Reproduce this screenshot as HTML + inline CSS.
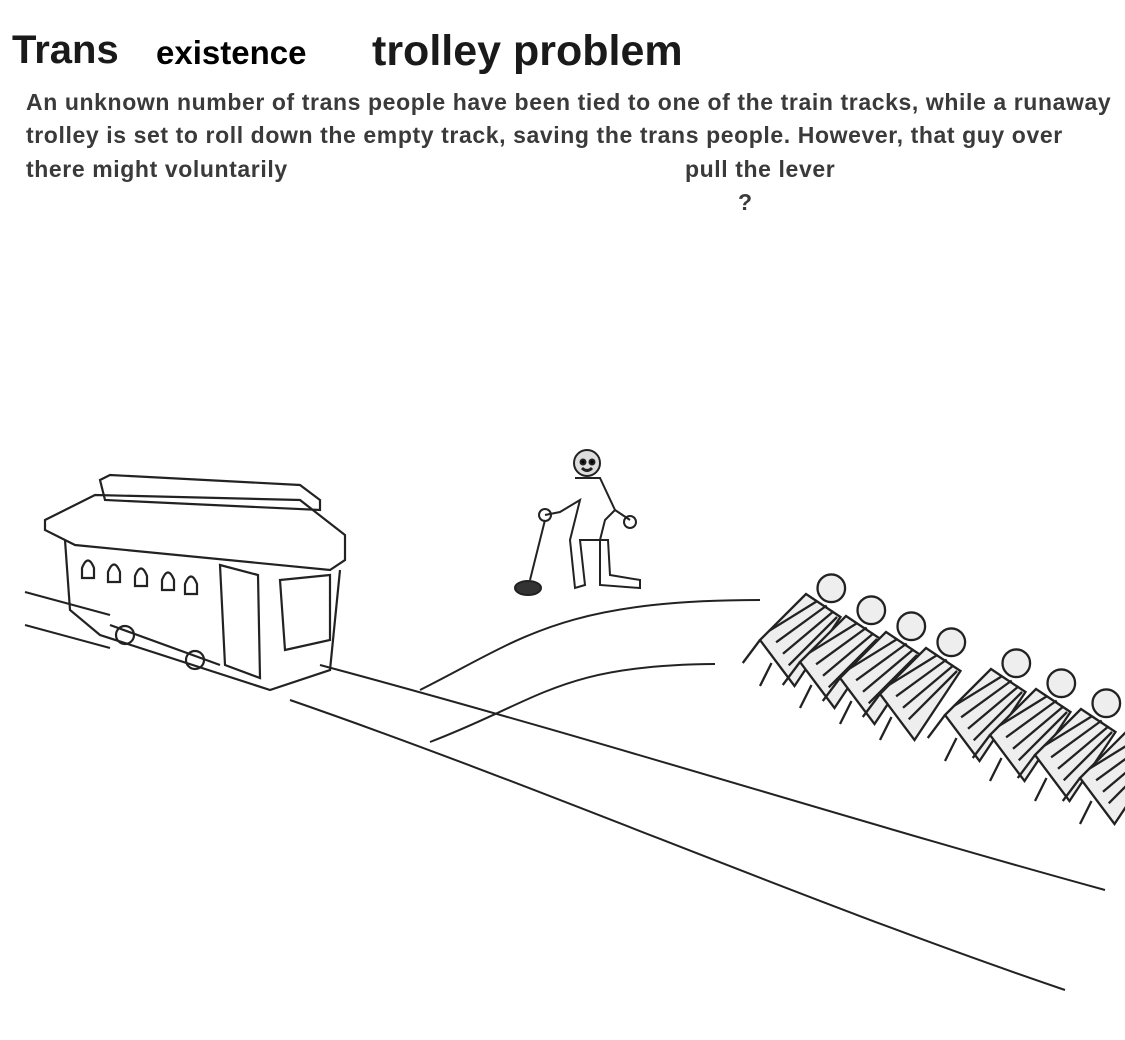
<!DOCTYPE html>
<html><head><meta charset="utf-8"><style>
html,body{margin:0;padding:0;background:#fff;}
body{width:1125px;height:1040px;position:relative;overflow:hidden;font-family:"Liberation Sans",sans-serif;}
.t{position:absolute;white-space:nowrap;color:#1a1a1a;}
.big{font-size:40px;font-weight:bold;}
.p{font-size:23px;letter-spacing:0.6px;font-weight:bold;color:#3a3a3a;}
svg{position:absolute;left:0;top:0;}
</style></head><body>
<div class="t big" style="left:12px;top:28px;">Trans</div>
<div class="t" style="left:156px;top:34px;font-size:33px;font-weight:bold;color:#000;">existence</div>
<div class="t big" style="left:372px;top:27px;font-size:43px;">trolley problem</div>
<div class="t p" style="left:26px;top:89px;">An unknown number of trans people have been tied to one of the train tracks, while a runaway</div>
<div class="t p" style="left:26px;top:122px;">trolley is set to roll down the empty track, saving the trans people. However, that guy over</div>
<div class="t p" style="left:26px;top:156px;">there might voluntarily</div>
<div class="t p" style="left:685px;top:156px;">pull the lever</div>
<div class="t p" style="left:738px;top:189px;">?</div>
<svg width="1125" height="1040" viewBox="0 0 1125 1040" fill="none" stroke="#222" stroke-width="2">
<defs>
<g id="pp">
<path d="M0 0 L40 -40 L70 -20 L30 40 Z"/>
<path d="M8 -8 L50 -34 M14 2 L58 -30 M20 12 L64 -25 M25 22 L67 -20"/>
<circle cx="62" cy="-45" r="12"/>
<path d="M0 0 L-15 20 M10 20 L0 40"/>
</g>
</defs>
<path d="M25 592 L110 615 M320 665 C600 740 850 820 1105 890"/>
<path d="M25 625 L110 648 M290 700 C550 790 800 900 1065 990"/>
<path d="M420 690 C520 640 560 600 760 600"/>
<path d="M430 742 C540 700 560 665 715 664"/>
<g stroke-width="2.2">
<path d="M45 520 L95 495 L300 500 L345 535 L345 560 L330 570 L75 545 L45 530 Z"/>
<path d="M100 480 L110 475 L300 485 L320 500 L320 510 L105 500 Z"/>
<path d="M65 540 L70 610 L100 635 L270 690 L330 670 L340 570"/>
<path d="M220 565 L225 665 L260 678 L258 575 Z"/>
<path d="M280 580 L285 650 L330 640 L330 575 Z"/>
<path d="M82 568 q6 -15 12 0 v10 h-12 z M108 572 q6 -15 12 0 v10 h-12 z M135 576 q6 -15 12 0 v10 h-12 z M162 580 q6 -15 12 0 v10 h-12 z M185 584 q6 -15 12 0 v10 h-12 z"/>
<circle cx="125" cy="635" r="9"/><circle cx="195" cy="660" r="9"/>
<path d="M110 625 L220 665"/>
</g>
<g stroke-width="2">
<circle cx="587" cy="463" r="13" fill="#ddd"/>
<circle cx="583" cy="462" r="2.5" fill="#000"/><circle cx="592" cy="462" r="2.5" fill="#000"/>
<path d="M582 468 q5 5 10 0" stroke-width="3"/>
<path d="M575 478 L600 478 L615 510 L605 520 L600 540 L600 585 L640 588 L640 580 L610 575 L608 540 L580 540 L585 585 L575 588 L570 540 L580 500 L560 512 L545 515"/>
<path d="M615 510 L630 520"/><circle cx="630" cy="522" r="6"/>
<circle cx="545" cy="515" r="6"/>
<path d="M545 520 L530 580"/>
<ellipse cx="528" cy="588" rx="13" ry="7" fill="#333"/>
</g>
<g stroke-width="2" fill="#eee">
<use href="#pp" transform="translate(760 640) scale(1.15)"/>
<use href="#pp" transform="translate(800 662) scale(1.15)"/>
<use href="#pp" transform="translate(840 678) scale(1.15)"/>
<use href="#pp" transform="translate(880 694) scale(1.15)"/>
<use href="#pp" transform="translate(945 715) scale(1.15)"/>
<use href="#pp" transform="translate(990 735) scale(1.15)"/>
<use href="#pp" transform="translate(1035 755) scale(1.15)"/>
<use href="#pp" transform="translate(1080 778) scale(1.15)"/>
</g>
</svg>
</body></html>
